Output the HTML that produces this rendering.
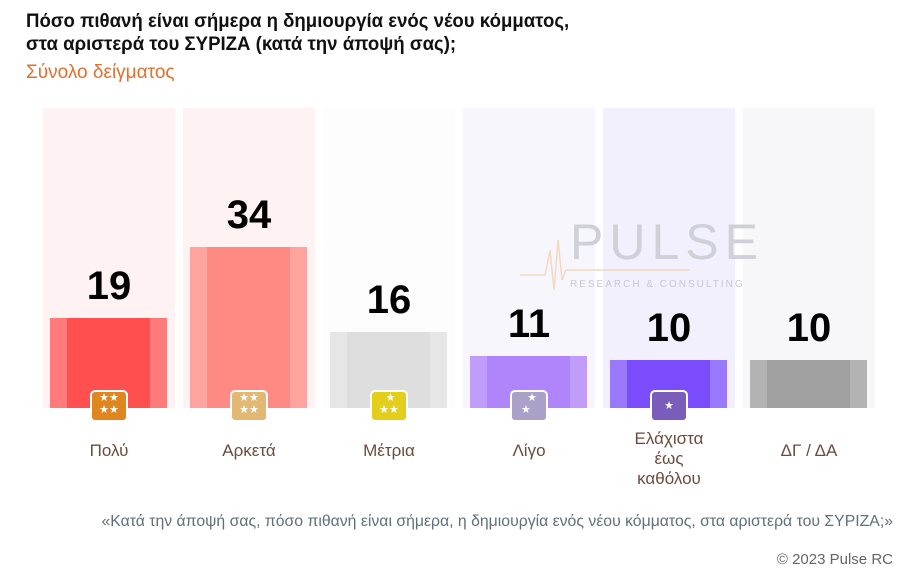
<!DOCTYPE html>
<html><head><meta charset="utf-8"><style>
body{margin:0;width:911px;height:583px;background:#fff;position:relative;overflow:hidden;font-family:"Liberation Sans","DejaVu Sans",sans-serif}
.a{position:absolute}
.t{left:26px;font-weight:bold;font-size:19px;color:#111;white-space:nowrap;transform-origin:0 0;transform:scaleX(0.98)}
.col{position:absolute;top:108px;width:132px;height:300px}
.bar{position:absolute;left:7px;width:117px;bottom:0}
.bar i{position:absolute;top:0;bottom:0;left:17px;right:17px}
.num{position:absolute;width:132px;text-align:center;font-weight:bold;font-size:40px;color:#000;transform:scaleX(1.0)}
.ic{position:absolute;width:34px;height:28px;border-radius:3px;top:392px;color:#fff;font-size:11px;line-height:12px;text-align:center;box-shadow:0 0 0 2px #fff}
.lab{position:absolute;width:140px;text-align:center;color:#6b4b3e;font-size:17px;line-height:20px}
</style></head><body>
<div class="a t" style="top:11px">Πόσο πιθανή είναι σήμερα η δημιουργία ενός νέου κόμματος,</div>
<div class="a t" style="top:34px">στα αριστερά του ΣΥΡΙΖΑ (κατά την άποψή σας);</div>
<div class="a" style="left:26px;top:62px;font-size:19px;color:#e0702e;transform-origin:0 0;transform:scaleX(1.0)">Σύνολο δείγματος</div>

<div class="col" style="left:43px;background:#fff2f2"><div class="bar" style="height:90px;background:#ff7b7b"><i style="background:#ff4f4f"></i></div></div>
<div class="col" style="left:183px;background:#fff2f2"><div class="bar" style="height:161px;background:#ffa39e"><i style="background:#ff8a84"></i></div></div>
<div class="col" style="left:323px;background:#fdfdfd"><div class="bar" style="height:76px;background:#e6e6e6"><i style="background:#dedede"></i></div></div>
<div class="col" style="left:463px;background:#f8f6fd"><div class="bar" style="height:52px;background:#c09dfb"><i style="background:#b084fb"></i></div></div>
<div class="col" style="left:603px;background:#f2f0fd"><div class="bar" style="height:48px;background:#9a78fb"><i style="background:#7a4cfb"></i></div></div>
<div class="col" style="left:743px;background:#f7f7f9"><div class="bar" style="height:48px;background:#b3b3b3"><i style="background:#a0a0a0"></i></div></div>

<div class="a" style="left:570px;top:213px;font-size:50px;color:#cfd0d8;letter-spacing:6px;font-weight:300">PULSE</div>
<div class="a" style="left:570px;top:279px;font-size:10px;color:#c8c8d0;letter-spacing:2px">RESEARCH &amp; CONSULTING</div>
<svg class="a" style="left:520px;top:230px" width="170" height="70"><polyline points="0,45 25,45 30,20 34,60 38,10 42,50 46,40 170,40" fill="none" stroke="#f3d9bf" stroke-width="1.5"/></svg>

<div class="num" style="left:43px;top:264px">19</div>
<div class="num" style="left:183px;top:193px">34</div>
<div class="num" style="left:323px;top:278px">16</div>
<div class="num" style="left:463px;top:302px">11</div>
<div class="num" style="left:603px;top:306px">10</div>
<div class="num" style="left:743px;top:306px">10</div>

<div class="ic" style="left:92px;background:#e0861e">★★<br>★★</div>
<div class="ic" style="left:232px;background:#e2b873">★★<br>★★</div>
<div class="ic" style="left:372px;background:#e3cf1a">&nbsp;★<br>★★</div>
<div class="ic" style="left:512px;background:#aaa0c8">&nbsp;&nbsp;★<br>★&nbsp;&nbsp;</div>
<div class="ic" style="left:652px;background:#7a5cba;line-height:28px">★</div>

<div class="lab" style="left:39px;top:441px">Πολύ</div>
<div class="lab" style="left:179px;top:441px">Αρκετά</div>
<div class="lab" style="left:319px;top:441px">Μέτρια</div>
<div class="lab" style="left:459px;top:441px">Λίγο</div>
<div class="lab" style="left:599px;top:429px">Ελάχιστα<br>έως<br>καθόλου</div>
<div class="lab" style="left:739px;top:441px">ΔΓ / ΔΑ</div>

<div class="a" style="right:18px;top:513px;font-size:15.8px;color:#5f6f7c;white-space:nowrap">«Κατά την άποψή σας, πόσο πιθανή είναι σήμερα, η δημιουργία ενός νέου κόμματος, στα αριστερά του ΣΥΡΙΖΑ;»</div>
<div class="a" style="right:18px;top:551px;font-size:15px;color:#666">© 2023 Pulse RC</div>
</body></html>
